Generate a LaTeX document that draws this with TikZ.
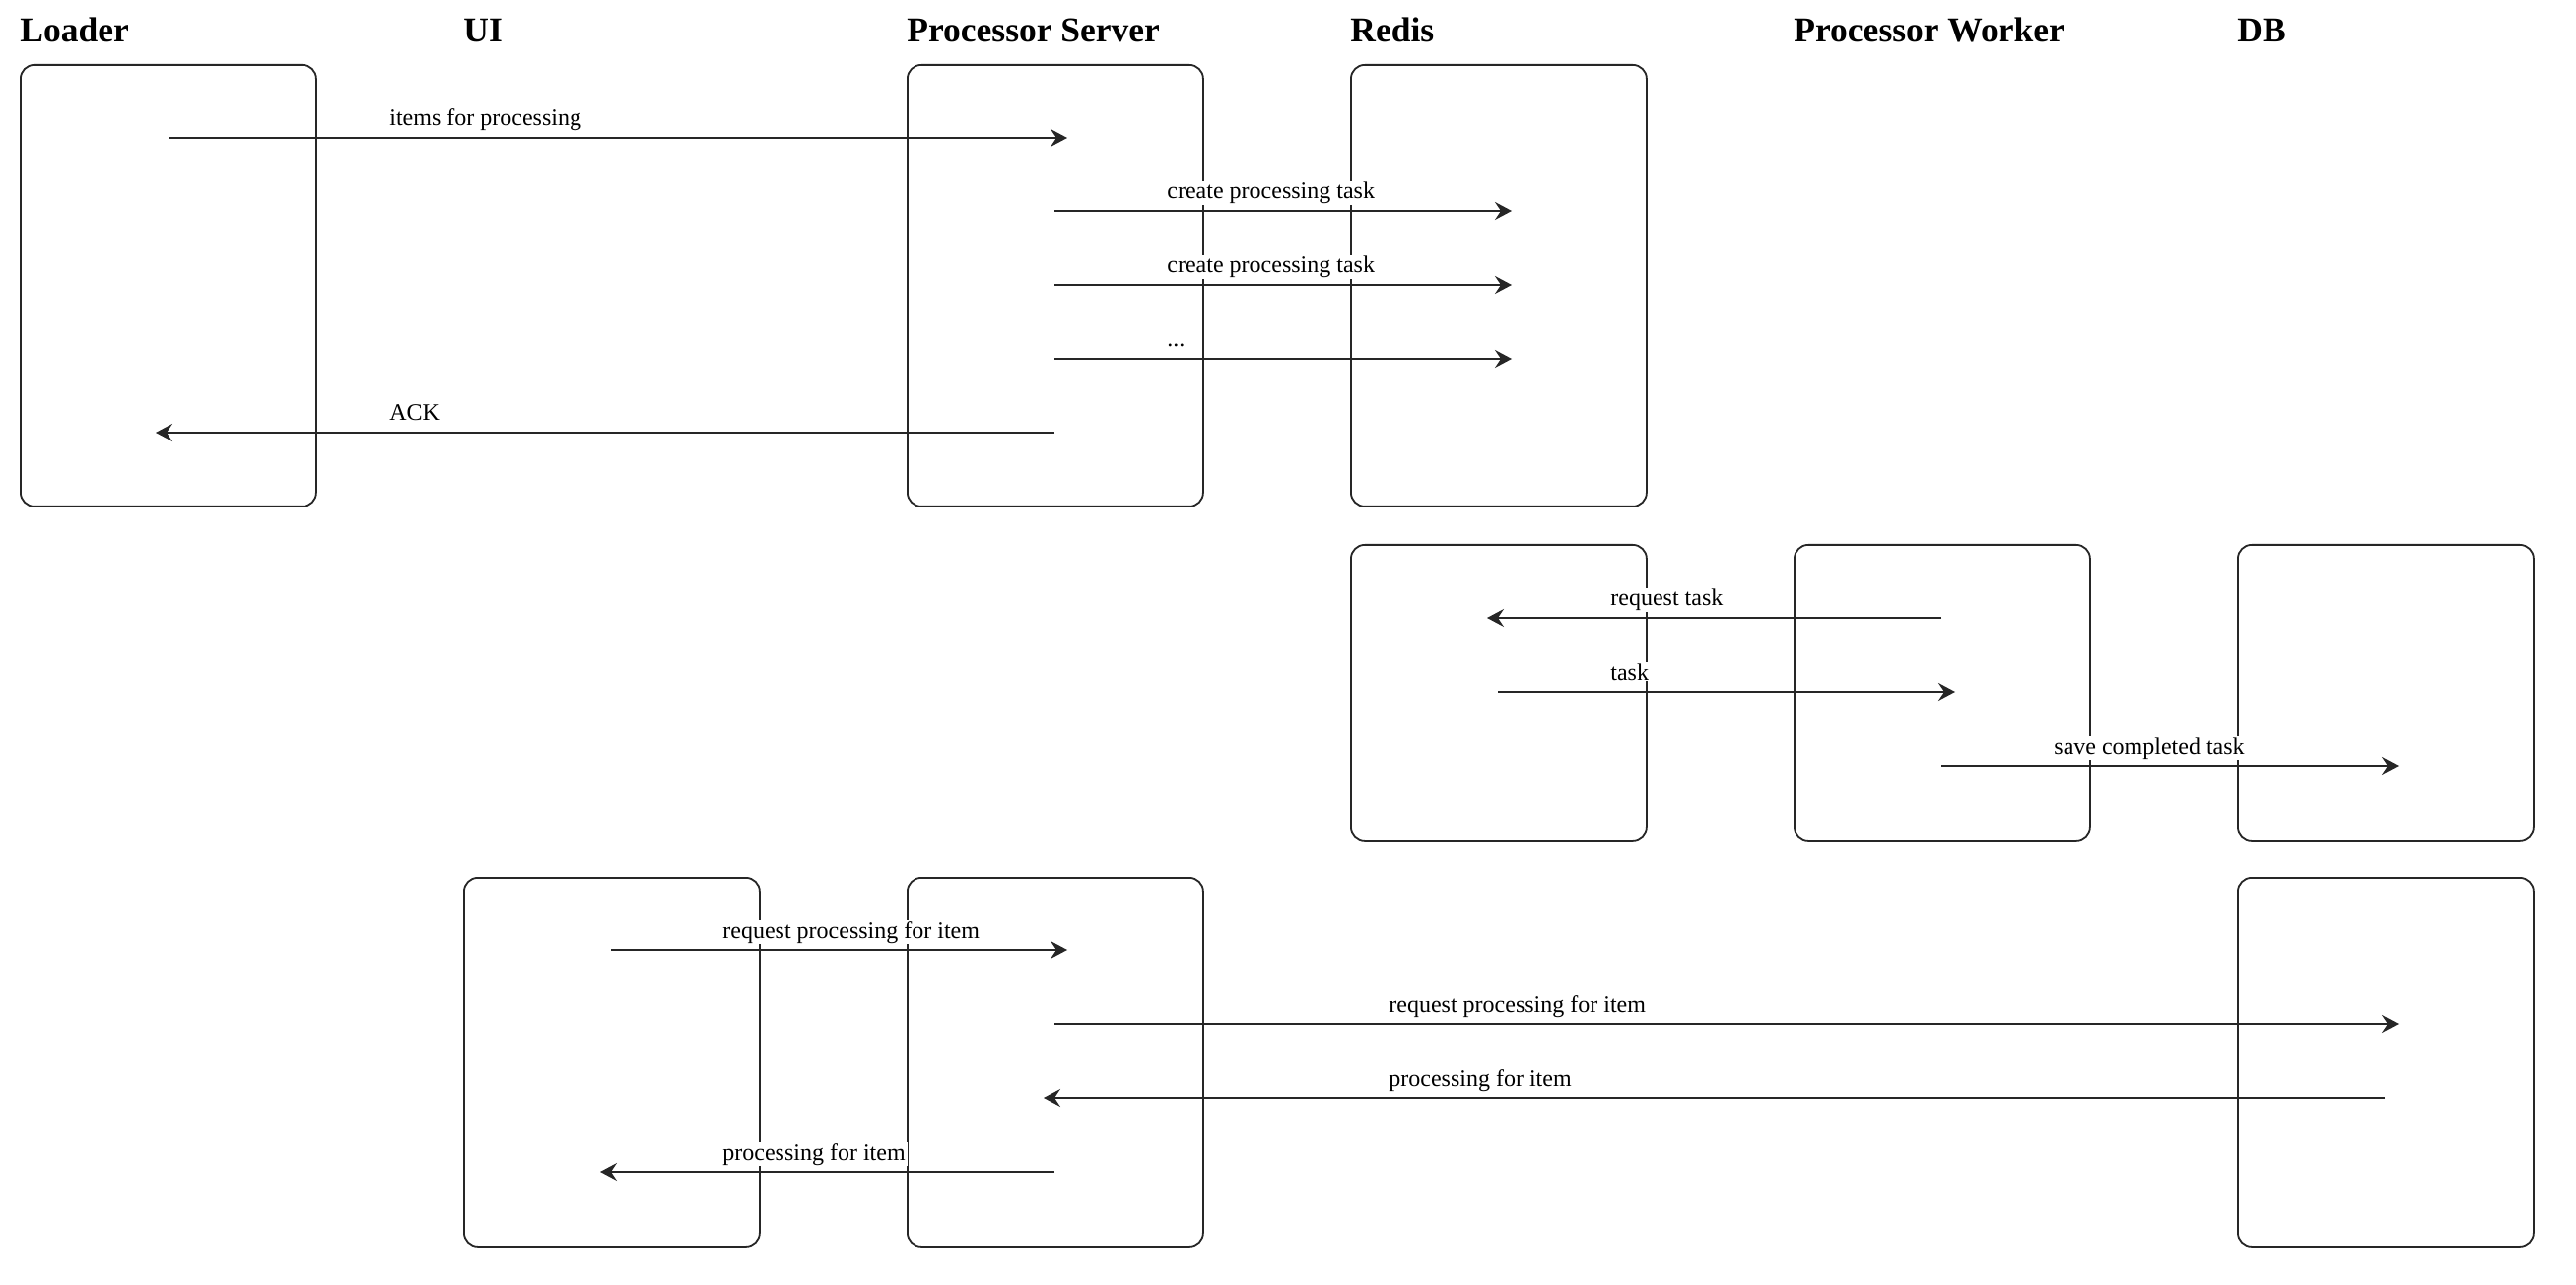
\documentclass[tikz,border=0pt]{standalone}
\usepackage{fontspec}
\setmainfont{Liberation Serif}
\usetikzlibrary{arrows.meta}
\begin{document}
\begin{tikzpicture}[x=0.5pt,y=-0.5pt,
  lane/.style={draw=black!85, fill=white, line width=0.9pt, rounded corners=7pt,
    minimum width=150pt, inner sep=0pt, anchor=north west},
  head/.style={anchor=base west, inner sep=0pt, font=\fontsize{17.75}{20}\selectfont\bfseries},
  msg/.style={draw=black!85, line width=0.9pt, -{Stealth[length=8.5pt,width=9pt,inset=3pt]}},
  lbl/.style={anchor=base west, fill=white, inner xsep=1pt, inner ysep=0.5pt,
    font=\fontsize{12}{14}\selectfont}]
\useasboundingbox (0,0) rectangle (2614,1304);

% column headings
\node[head] (hLoader) at (20,43) {Loader};
\node[head] (hUI) at (470,43) {UI};
\node[head] (hPS) at (920,43) {Processor Server};
\node[head] (hRedis) at (1370,43) {Redis};
\node[head] (hWorker) at (1820,43) {Processor Worker};
\node[head] (hDB) at (2270,43) {DB};

% lifeline boxes
\node[lane, minimum height=224pt] (loader) at (20,65) {};
\node[lane, minimum height=224pt] (psA) at (920,65) {};
\node[lane, minimum height=224pt] (redisA) at (1370,65) {};
\node[lane, minimum height=150pt] (redisB) at (1370,552) {};
\node[lane, minimum height=150pt] (worker) at (1820,552) {};
\node[lane, minimum height=150pt] (dbB) at (2270,552) {};
\node[lane, minimum height=187pt] (ui) at (470,890) {};
\node[lane, minimum height=187pt] (psC) at (920,890) {};
\node[lane, minimum height=187pt] (dbC) at (2270,890) {};

% message end points
\coordinate (m1s) at (172,140);  \coordinate (m1e) at (1083,140);
\coordinate (m2s) at (1070,214); \coordinate (m2e) at (1534,214);
\coordinate (m3s) at (1070,289); \coordinate (m3e) at (1534,289);
\coordinate (m4s) at (1070,364); \coordinate (m4e) at (1534,364);
\coordinate (m5s) at (1070,439); \coordinate (m5e) at (158,439);
\coordinate (m6s) at (1970,627); \coordinate (m6e) at (1509,627);
\coordinate (m7s) at (1520,702); \coordinate (m7e) at (1984,702);
\coordinate (m8s) at (1970,777); \coordinate (m8e) at (2434,777);
\coordinate (m9s) at (620,964);  \coordinate (m9e) at (1083,964);
\coordinate (m10s) at (1070,1039); \coordinate (m10e) at (2434,1039);
\coordinate (m11s) at (2420,1114); \coordinate (m11e) at (1059,1114);
\coordinate (m12s) at (1070,1189); \coordinate (m12e) at (609,1189);

% messages
\foreach \i in {1,...,12} \draw[msg] (m\i s) -- (m\i e);

% message labels
\node[lbl] (l1) at (393,128) {items for processing};
\node[lbl] (l2) at (1182,202) {create processing task};
\node[lbl] (l3) at (1182,277) {create processing task};
\node[lbl] (l4) at (1182,352) {...};
\node[lbl] (l5) at (393,427) {ACK};
\node[lbl] (l6) at (1632,615) {request task};
\node[lbl] (l7) at (1632,690) {task};
\node[lbl] (l8) at (2082,765) {save completed task};
\node[lbl] (l9) at (731,952) {request processing for item};
\node[lbl] (l10) at (1407,1027) {request processing for item};
\node[lbl] (l11) at (1407,1102) {processing for item};
\node[lbl] (l12) at (731,1177) {processing for item};
\end{tikzpicture}
\end{document}
